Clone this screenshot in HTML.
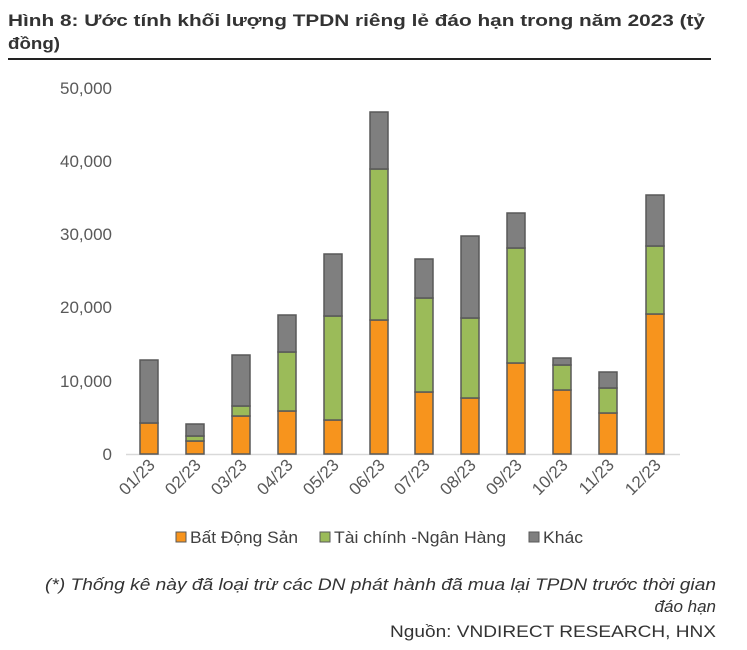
<!DOCTYPE html>
<html><head><meta charset="utf-8"><style>
body{margin:0;background:#fff;width:747px;height:645px;overflow:hidden;font-family:"Liberation Sans",sans-serif;}
</style></head><body>
<svg width="747" height="645" xmlns="http://www.w3.org/2000/svg" font-family="Liberation Sans, sans-serif">
<text x="8" y="26" font-size="17" font-weight="bold" fill="#333" textLength="697" lengthAdjust="spacingAndGlyphs">Hình 8: Ước tính khối lượng TPDN riêng lẻ đáo hạn trong năm 2023 (tỷ</text>
<text x="8" y="49" font-size="17" font-weight="bold" fill="#333" textLength="52" lengthAdjust="spacingAndGlyphs">đồng)</text>
<rect x="8" y="58" width="703" height="2" fill="#222"/>
<g font-size="17" fill="#595959" text-anchor="end">
<text x="112" y="460">0</text><text x="112" y="387">10,000</text><text x="112" y="313">20,000</text>
<text x="112" y="240">30,000</text><text x="112" y="167">40,000</text><text x="112" y="94">50,000</text>
</g>
<line x1="126" y1="454.5" x2="680" y2="454.5" stroke="#d9d9d9" stroke-width="1.5"/>
<g id="bars" stroke="#595959" stroke-width="1.5"></g>
<g font-size="17" fill="#595959" id="xl"></g>
<g font-size="17" fill="#404040">
<rect x="176" y="532" width="10" height="10" fill="#F7941D" stroke="#595959"/><text x="190" y="543" textLength="108" lengthAdjust="spacingAndGlyphs">Bất Động Sản</text>
<rect x="320" y="532" width="10" height="10" fill="#9BBB59" stroke="#595959"/><text x="334" y="543" textLength="172" lengthAdjust="spacingAndGlyphs">Tài chính -Ngân Hàng</text>
<rect x="529" y="532" width="10" height="10" fill="#7F7F7F" stroke="#595959"/><text x="543" y="543" textLength="40" lengthAdjust="spacingAndGlyphs">Khác</text>
</g>
<text x="45" y="590" font-size="17" font-style="italic" fill="#333" textLength="671" lengthAdjust="spacingAndGlyphs">(*) Thống kê này đã loại trừ các DN phát hành đã mua lại TPDN trước thời gian</text>
<text x="716" y="612" font-size="17" font-style="italic" fill="#333" text-anchor="end">đáo hạn</text>
<text x="390" y="637" font-size="17" fill="#333" textLength="326" lengthAdjust="spacingAndGlyphs">Nguồn: VNDIRECT RESEARCH, HNX</text>
</svg>
<script>
var d=[[149,423,423,360],[195,441,436,424],[241,416,406,355],[287,411,352,315],[333,420,316,254],[379,320,169,112],[424,392,298,259],[470,398,318,236],[516,363,248,213],[562,390,365,358],[608,413,388,372],[655,314,246,195]];
var ns="http://www.w3.org/2000/svg",g=document.getElementById("bars"),xl=document.getElementById("xl");
function r(x,y1,y2,c){if(y2-y1<0.5)return;var e=document.createElementNS(ns,"rect");e.setAttribute("x",x-9);e.setAttribute("width",18);e.setAttribute("y",y1);e.setAttribute("height",y2-y1);e.setAttribute("fill",c);g.appendChild(e);}
d.forEach(function(b,i){r(b[0],b[1],454,"#F7941D");r(b[0],b[2],b[1],"#9BBB59");r(b[0],b[3],b[2],"#7F7F7F");
var t=document.createElementNS(ns,"text");t.setAttribute("transform","translate("+(b[0]+7)+",466) rotate(-45)");t.setAttribute("text-anchor","end");t.textContent=("0"+(i+1)).slice(-2)+"/23";xl.appendChild(t);});
</script>
</body></html>
